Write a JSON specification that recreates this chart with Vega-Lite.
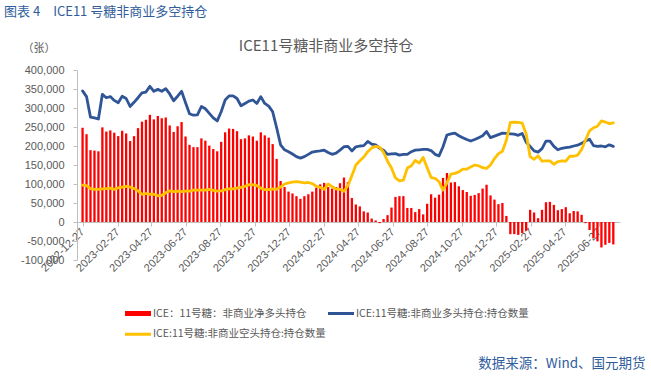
{
"$schema": "https://vega.github.io/schema/vega-lite/v6.json",
"width": 543,
"height": 190,
"autosize": {"type": "none"},
"padding": {"left": 77, "top": 70, "right": 31, "bottom": 116},
"background": "white",
"config": {"view": {"stroke": null}, "font": "Noto Sans CJK SC", "axis": {"grid": false}, "axisY": {"labelOverlap": false}},
"title": {"text": "图表 4\u2003ICE11 号糖非商业多空持仓", "anchor": "start", "frame": "group", "dx": -73, "offset": 19.5, "fontSize": 13, "fontWeight": "normal", "color": "#2F5D9C", "font": "Noto Sans CJK SC"},
"data": {"values": [
{"d":"2022-12-27","net":248000,"long":345000,"short":97000},
{"d":"2023-01-03","net":231000,"long":330000,"short":96000},
{"d":"2023-01-10","net":189000,"long":276000,"short":88000},
{"d":"2023-01-17","net":188000,"long":274000,"short":86000},
{"d":"2023-01-24","net":186000,"long":271000,"short":86000},
{"d":"2023-01-31","net":249000,"long":336000,"short":87000},
{"d":"2023-02-07","net":238000,"long":327000,"short":88000},
{"d":"2023-02-14","net":241000,"long":330000,"short":89000},
{"d":"2023-02-21","net":235000,"long":320000,"short":86000},
{"d":"2023-02-28","net":226000,"long":314000,"short":90000},
{"d":"2023-03-07","net":240000,"long":331000,"short":92000},
{"d":"2023-03-14","net":233000,"long":325000,"short":94000},
{"d":"2023-03-21","net":213000,"long":304000,"short":92000},
{"d":"2023-03-28","net":226000,"long":315000,"short":88000},
{"d":"2023-04-04","net":247000,"long":327000,"short":82000},
{"d":"2023-04-11","net":264000,"long":340000,"short":73000},
{"d":"2023-04-18","net":269000,"long":342000,"short":75000},
{"d":"2023-04-25","net":282000,"long":357000,"short":73000},
{"d":"2023-05-02","net":270000,"long":344000,"short":73000},
{"d":"2023-05-09","net":279000,"long":349000,"short":69000},
{"d":"2023-05-16","net":273000,"long":344000,"short":70000},
{"d":"2023-05-23","net":275000,"long":351000,"short":77000},
{"d":"2023-05-30","net":254000,"long":337000,"short":82000},
{"d":"2023-06-06","net":237000,"long":319000,"short":80000},
{"d":"2023-06-13","net":252000,"long":331000,"short":81000},
{"d":"2023-06-20","net":263000,"long":344000,"short":80000},
{"d":"2023-06-27","net":225000,"long":314000,"short":81000},
{"d":"2023-07-04","net":203000,"long":285000,"short":81000},
{"d":"2023-07-11","net":197000,"long":281000,"short":84000},
{"d":"2023-07-18","net":197000,"long":282000,"short":84000},
{"d":"2023-07-25","net":220000,"long":304000,"short":84000},
{"d":"2023-08-01","net":214000,"long":298000,"short":84000},
{"d":"2023-08-08","net":201000,"long":286000,"short":86000},
{"d":"2023-08-15","net":192000,"long":274000,"short":83000},
{"d":"2023-08-22","net":186000,"long":266000,"short":81000},
{"d":"2023-08-29","net":211000,"long":290000,"short":82000},
{"d":"2023-09-05","net":236000,"long":321000,"short":85000},
{"d":"2023-09-12","net":246000,"long":332000,"short":87000},
{"d":"2023-09-19","net":245000,"long":332000,"short":87000},
{"d":"2023-09-26","net":239000,"long":325000,"short":89000},
{"d":"2023-10-03","net":218000,"long":306000,"short":91000},
{"d":"2023-10-10","net":220000,"long":312000,"short":94000},
{"d":"2023-10-17","net":228000,"long":318000,"short":98000},
{"d":"2023-10-24","net":225000,"long":321000,"short":98000},
{"d":"2023-10-31","net":214000,"long":312000,"short":96000},
{"d":"2023-11-07","net":236000,"long":330000,"short":89000},
{"d":"2023-11-14","net":228000,"long":312000,"short":85000},
{"d":"2023-11-21","net":222000,"long":305000,"short":85000},
{"d":"2023-11-28","net":205000,"long":290000,"short":87000},
{"d":"2023-12-05","net":166000,"long":248000,"short":86000},
{"d":"2023-12-12","net":108000,"long":203000,"short":92000},
{"d":"2023-12-19","net":92000,"long":190000,"short":100000},
{"d":"2023-12-26","net":80000,"long":185000,"short":103000},
{"d":"2024-01-02","net":75000,"long":179000,"short":105000},
{"d":"2024-01-09","net":68000,"long":172000,"short":106000},
{"d":"2024-01-16","net":61000,"long":168000,"short":105000},
{"d":"2024-01-23","net":68000,"long":172000,"short":103000},
{"d":"2024-01-30","net":73000,"long":178000,"short":104000},
{"d":"2024-02-06","net":80000,"long":184000,"short":101000},
{"d":"2024-02-13","net":90000,"long":186000,"short":94000},
{"d":"2024-02-20","net":99000,"long":187000,"short":91000},
{"d":"2024-02-27","net":103000,"long":189000,"short":86000},
{"d":"2024-03-05","net":92000,"long":183000,"short":100000},
{"d":"2024-03-12","net":88000,"long":178000,"short":93000},
{"d":"2024-03-19","net":92000,"long":181000,"short":87000},
{"d":"2024-03-26","net":102000,"long":189000,"short":86000},
{"d":"2024-04-02","net":117000,"long":198000,"short":81000},
{"d":"2024-04-09","net":105000,"long":199000,"short":96000},
{"d":"2024-04-16","net":63000,"long":187000,"short":122000},
{"d":"2024-04-23","net":46000,"long":198000,"short":150000},
{"d":"2024-04-30","net":41000,"long":200000,"short":161000},
{"d":"2024-05-07","net":28000,"long":201000,"short":171000},
{"d":"2024-05-14","net":25000,"long":212000,"short":185000},
{"d":"2024-05-21","net":9000,"long":205000,"short":195000},
{"d":"2024-05-28","net":4000,"long":203000,"short":199000},
{"d":"2024-06-04","net":-3000,"long":194000,"short":197000},
{"d":"2024-06-11","net":8000,"long":189000,"short":183000},
{"d":"2024-06-18","net":18000,"long":178000,"short":160000},
{"d":"2024-06-25","net":38000,"long":179000,"short":142000},
{"d":"2024-07-02","net":66000,"long":180000,"short":116000},
{"d":"2024-07-09","net":68000,"long":176000,"short":108000},
{"d":"2024-07-16","net":68000,"long":178000,"short":110000},
{"d":"2024-07-23","net":37000,"long":178000,"short":142000},
{"d":"2024-07-30","net":37000,"long":185000,"short":148000},
{"d":"2024-08-06","net":26000,"long":189000,"short":162000},
{"d":"2024-08-13","net":34000,"long":190000,"short":155000},
{"d":"2024-08-20","net":20000,"long":191000,"short":170000},
{"d":"2024-08-27","net":48000,"long":191000,"short":143000},
{"d":"2024-09-03","net":73000,"long":188000,"short":117000},
{"d":"2024-09-10","net":64000,"long":178000,"short":115000},
{"d":"2024-09-17","net":72000,"long":174000,"short":106000},
{"d":"2024-09-24","net":116000,"long":198000,"short":84000},
{"d":"2024-10-01","net":129000,"long":229000,"short":103000},
{"d":"2024-10-08","net":104000,"long":232000,"short":126000},
{"d":"2024-10-15","net":105000,"long":234000,"short":128000},
{"d":"2024-10-22","net":94000,"long":227000,"short":132000},
{"d":"2024-10-29","net":84000,"long":222000,"short":139000},
{"d":"2024-11-05","net":79000,"long":217000,"short":139000},
{"d":"2024-11-12","net":69000,"long":213000,"short":145000},
{"d":"2024-11-19","net":71000,"long":217000,"short":150000},
{"d":"2024-11-26","net":76000,"long":222000,"short":148000},
{"d":"2024-12-03","net":88000,"long":227000,"short":143000},
{"d":"2024-12-10","net":98000,"long":238000,"short":141000},
{"d":"2024-12-17","net":70000,"long":222000,"short":150000},
{"d":"2024-12-24","net":59000,"long":226000,"short":167000},
{"d":"2024-12-31","net":47000,"long":230000,"short":180000},
{"d":"2025-01-07","net":50000,"long":234000,"short":186000},
{"d":"2025-01-14","net":16000,"long":233000,"short":215000},
{"d":"2025-01-21","net":-32000,"long":232000,"short":262000},
{"d":"2025-01-28","net":-32000,"long":231000,"short":263000},
{"d":"2025-02-04","net":-34000,"long":228000,"short":262000},
{"d":"2025-02-11","net":-29000,"long":233000,"short":260000},
{"d":"2025-02-18","net":-23000,"long":210000,"short":232000},
{"d":"2025-02-25","net":32000,"long":199000,"short":172000},
{"d":"2025-03-04","net":25000,"long":187000,"short":165000},
{"d":"2025-03-11","net":10000,"long":184000,"short":174000},
{"d":"2025-03-18","net":32000,"long":193000,"short":160000},
{"d":"2025-03-25","net":52000,"long":213000,"short":161000},
{"d":"2025-04-01","net":53000,"long":213000,"short":161000},
{"d":"2025-04-08","net":45000,"long":199000,"short":152000},
{"d":"2025-04-15","net":31000,"long":190000,"short":159000},
{"d":"2025-04-22","net":34000,"long":194000,"short":161000},
{"d":"2025-04-29","net":39000,"long":196000,"short":160000},
{"d":"2025-05-06","net":23000,"long":197000,"short":173000},
{"d":"2025-05-13","net":29000,"long":200000,"short":173000},
{"d":"2025-05-20","net":28000,"long":202000,"short":176000},
{"d":"2025-05-27","net":19000,"long":207000,"short":191000},
{"d":"2025-06-03","net":-3000,"long":213000,"short":216000},
{"d":"2025-06-10","net":-21000,"long":218000,"short":240000},
{"d":"2025-06-17","net":-42000,"long":201000,"short":248000},
{"d":"2025-06-24","net":-51000,"long":199000,"short":252000},
{"d":"2025-07-01","net":-67000,"long":200000,"short":266000},
{"d":"2025-07-08","net":-60000,"long":198000,"short":263000},
{"d":"2025-07-15","net":-55000,"long":203000,"short":259000},
{"d":"2025-07-22","net":-59000,"long":199000,"short":261000}
]},
"layer": [
{
"mark": {"type": "bar", "size": 2.3},
"encoding": {
"x": {"field": "d", "type": "temporal",
 "scale": {"type": "utc", "domain": [{"year": 2022, "month": 12, "date": 26, "utc": true}, {"year": 2025, "month": 7, "date": 25, "utc": true}]},
 "axis": {"orient": "bottom", "offset": -38,
  "values": [{"year":2022,"month":12,"date":27,"utc":true},{"year":2023,"month":2,"date":27,"utc":true},{"year":2023,"month":4,"date":27,"utc":true},{"year":2023,"month":6,"date":27,"utc":true},{"year":2023,"month":8,"date":27,"utc":true},{"year":2023,"month":10,"date":27,"utc":true},{"year":2023,"month":12,"date":27,"utc":true},{"year":2024,"month":2,"date":27,"utc":true},{"year":2024,"month":4,"date":27,"utc":true},{"year":2024,"month":6,"date":27,"utc":true},{"year":2024,"month":8,"date":27,"utc":true},{"year":2024,"month":10,"date":27,"utc":true},{"year":2024,"month":12,"date":27,"utc":true},{"year":2025,"month":2,"date":27,"utc":true},{"year":2025,"month":4,"date":27,"utc":true},{"year":2025,"month":6,"date":27,"utc":true}],
  "labelExpr": "utcFormat(datum.value, '%Y-%m-%d')",
  "labelAngle": -45, "labelAlign": "right", "labelBaseline": "middle", "labelPadding": 4, "labelFlush": false, "labelOverlap": false, "labelBound": false,
  "tickSize": 4, "labelFontSize": 11, "labelFont": "Liberation Sans", "labelColor": "#595959",
  "domainColor": "#BFBFBF", "tickColor": "#BFBFBF",
  "title": "数据来源：Wind、国元期货", "titleX": 568, "titleY": 141.5, "titleAlign": "right", "titleBaseline": "middle", "titleAngle": 0,
  "titleFontSize": 13.5, "titleFontWeight": "normal", "titleColor": "#2F5D9C", "titleFont": "Noto Sans CJK SC"}},
"y": {"field": "net", "type": "quantitative", "title": "（张）",
 "scale": {"domain": [-100000, 400000], "nice": false, "zero": false},
 "axis": {"values": [-100000,-50000,0,50000,100000,150000,200000,250000,300000,350000,400000],
  "labelExpr": "replace(format(datum.value, ','), '\u2212', '-')",
  "labelOverlap": false, "labelFlush": false, "labelBound": false,
  "tickSize": 4, "labelPadding": 9, "labelFontSize": 11, "labelFont": "Liberation Sans", "labelColor": "#595959",
  "domainColor": "#BFBFBF", "tickColor": "#BFBFBF",
  "titleAngle": 0, "titleX": -55, "titleY": -22, "titleAlign": "left", "titleBaseline": "middle",
  "titleFontSize": 11, "titleFontWeight": "normal", "titleColor": "#595959", "titleFont": "Noto Sans CJK SC"}},
"color": {"datum": "net", "type": "nominal", "title": null,
 "scale": {"domain": ["net", "long", "short"], "range": ["#FF0000", "#2F5597", "#FFC000"]},
 "legend": {"orient": "none", "direction": "horizontal", "legendX": 48, "legendY": 238, "columns": 2, "title": null,
  "labelExpr": "datum.value === 'net' ? 'ICE：11号糖：非商业净多头持仓' : datum.value === 'long' ? 'ICE:11号糖:非商业多头持仓:持仓数量' : 'ICE:11号糖:非商业空头持仓:持仓数量'",
  "labelFontSize": 10.5, "labelFont": "Noto Sans CJK SC", "labelColor": "#595959", "labelLimit": 400, "labelOffset": 2,
  "symbolSize": 676, "symbolType": "M-1,-0.2L1,-0.2L1,0.2L-1,0.2Z", "symbolStrokeWidth": 0, "symbolOffset": 0,
  "clipHeight": 11, "rowPadding": 9.7, "columnPadding": 2, "padding": 0,
  "encode": {"symbols": {"update": {
   "shape": {"signal": "datum.value === 'net' ? 'M-1,-0.2L1,-0.2L1,0.2L-1,0.2Z' : 'M-1,-0.115L1,-0.115L1,0.115L-1,0.115Z'"},
   "fill": {"scale": "color", "field": "value"},
   "stroke": {"value": "transparent"},
   "opacity": {"value": 1}}}}}}
}
},
{
"transform": [{"fold": ["long", "short"], "as": ["series", "val"]}],
"mark": {"type": "line", "strokeWidth": 2.8, "strokeJoin": "round", "strokeCap": "round"},
"encoding": {
"x": {"field": "d", "type": "temporal",
 "scale": {"type": "utc", "domain": [{"year": 2022, "month": 12, "date": 26, "utc": true}, {"year": 2025, "month": 7, "date": 25, "utc": true}]},
 "axis": {"orient": "top", "domain": false, "ticks": false, "labels": false,
  "title": "ICE11号糖非商业多空持仓", "titleX": 248.5, "titleY": -25, "titleAlign": "center", "titleBaseline": "middle", "titleAngle": 0,
  "titleFontSize": 15, "titleFontWeight": "normal", "titleColor": "#595959", "titleFont": "Noto Sans CJK SC"}},
"y": {"field": "val", "type": "quantitative", "title": "（张）",
 "scale": {"domain": [-100000, 400000], "nice": false, "zero": false},
 "axis": {"values": [-100000,-50000,0,50000,100000,150000,200000,250000,300000,350000,400000],
  "labelExpr": "replace(format(datum.value, ','), '\u2212', '-')",
  "labelOverlap": false, "labelFlush": false, "labelBound": false,
  "tickSize": 4, "labelPadding": 9, "labelFontSize": 11, "labelFont": "Liberation Sans", "labelColor": "#595959",
  "domainColor": "#BFBFBF", "tickColor": "#BFBFBF",
  "titleAngle": 0, "titleX": -55, "titleY": -22, "titleAlign": "left", "titleBaseline": "middle",
  "titleFontSize": 11, "titleFontWeight": "normal", "titleColor": "#595959", "titleFont": "Noto Sans CJK SC"}},
"color": {"field": "series", "type": "nominal", "title": null, "scale": {"domain": ["net", "long", "short"], "range": ["#FF0000", "#2F5597", "#FFC000"]}}
}
}
],
"resolve": {"axis": {"x": "independent"}}
}
